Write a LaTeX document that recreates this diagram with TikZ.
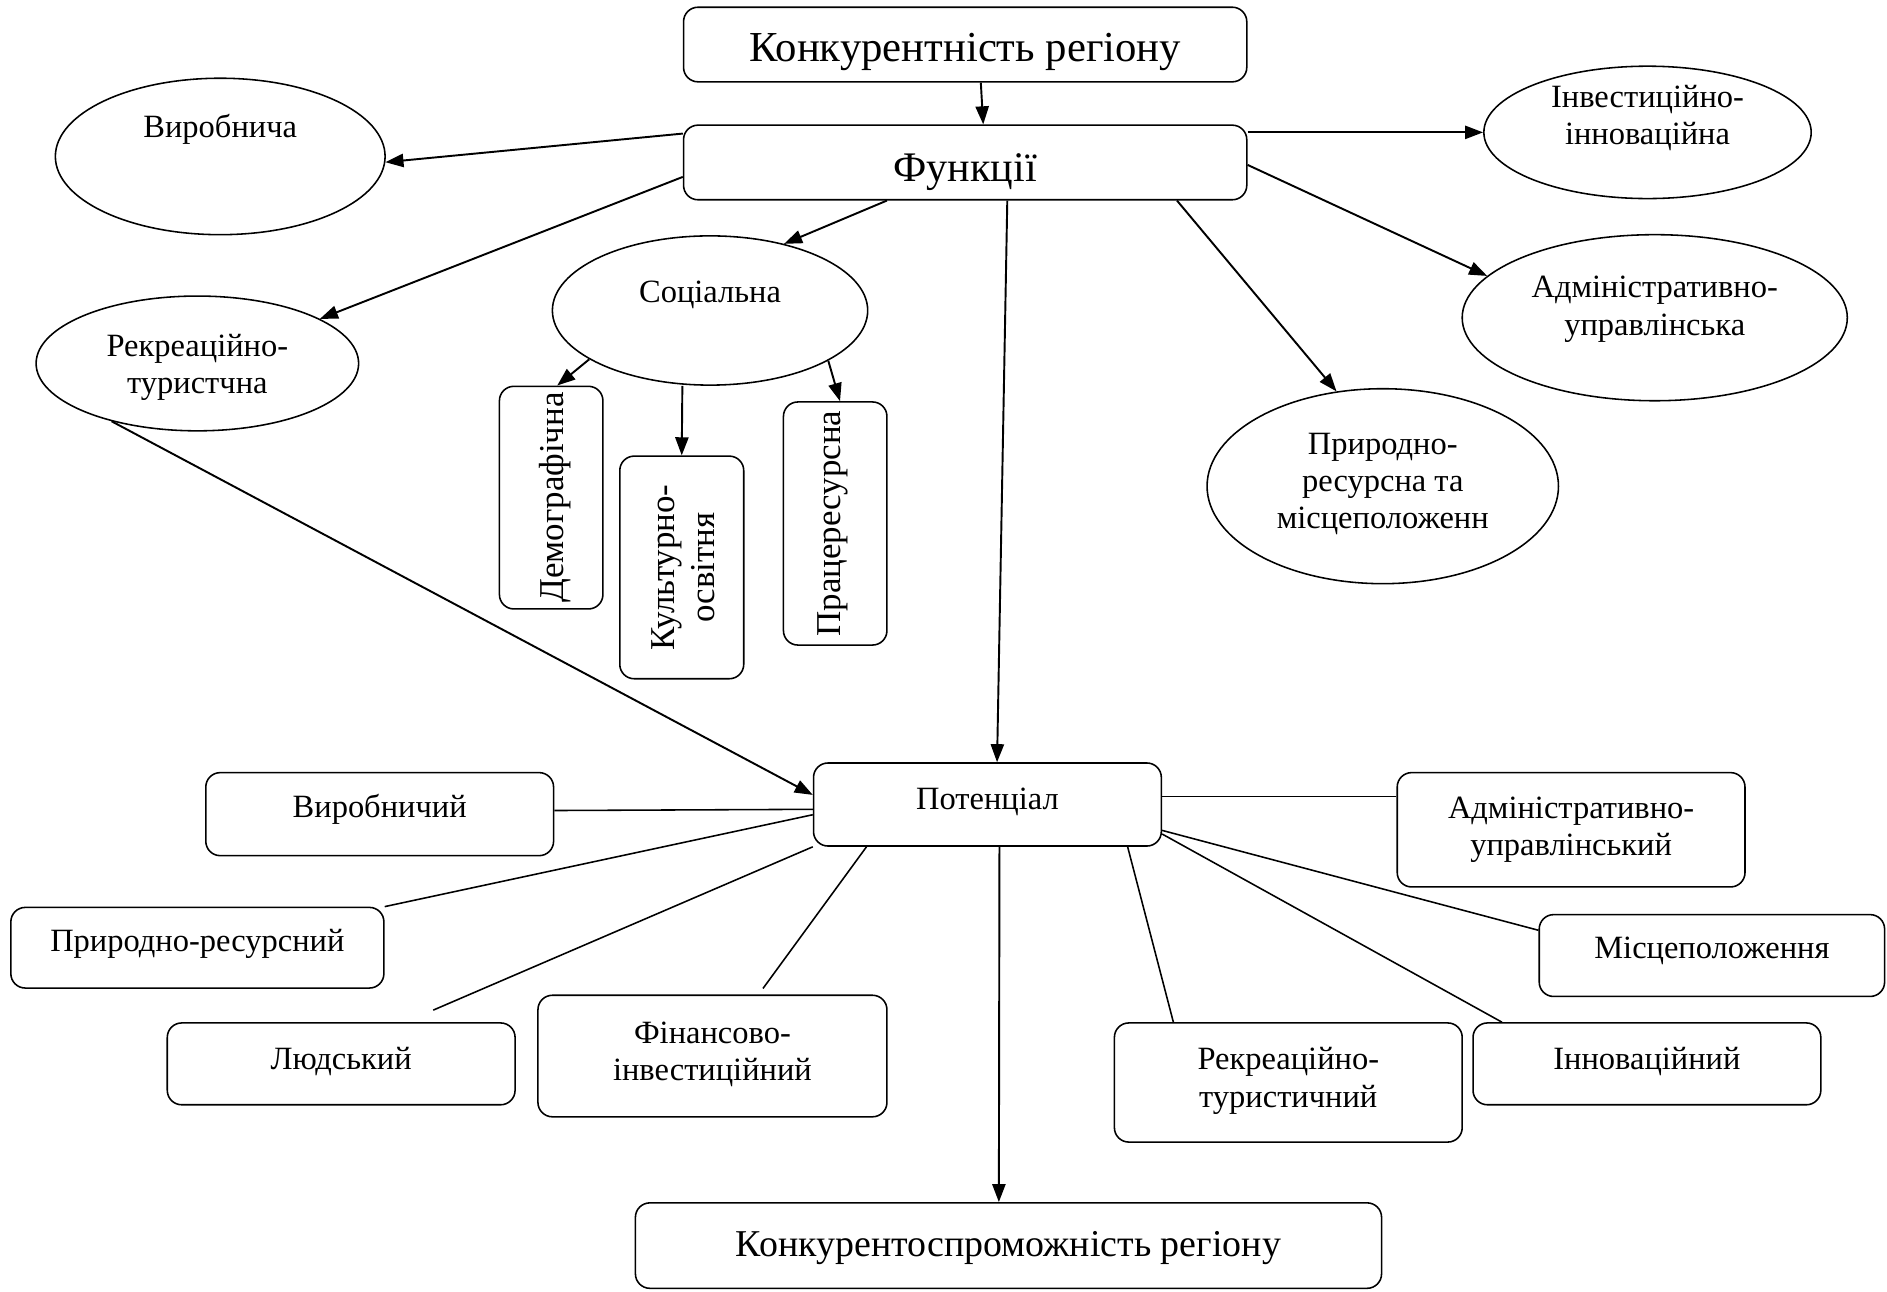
\documentclass[tikz,border=0pt]{standalone}
\usepackage{fontspec}
\setmainfont{Liberation Serif}
\usetikzlibrary{arrows.meta,shapes.geometric}
\newcommand{\txtup}[2]{\makebox[0pt]{\raisebox{\dimexpr #1pt-0.35em\relax}[0pt][0pt]{\begin{tabular}{@{}c@{}}#2\end{tabular}}}}
\begin{document}
\begin{tikzpicture}[x=1pt,y=-1pt,
  box/.style={draw, line width=1.3pt, rounded corners=12pt, inner sep=0pt, font=\fontsize{27}{31}\selectfont},
  oval/.style={draw, ellipse, line width=1.3pt, inner sep=0pt, font=\fontsize{27}{31}\selectfont},
  rbox/.style={box, rotate=90, font=\fontsize{29}{33}\selectfont},
  arr/.style={line width=1.6pt, -{Triangle[length=15pt,width=11pt]}},
  ln/.style={line width=1.3pt}]
\useasboundingbox (0,0) rectangle (1568,1073);
% top
\node[box, minimum width=468pt, minimum height=62pt, font=\fontsize{35.5}{40}\selectfont] (top) at (802,37) {\txtup{0}{Конкурентність регіону}};
\node[box, minimum width=468pt, minimum height=62pt, font=\fontsize{35}{40}\selectfont] (fun) at (802,135) {\txtup{-2}{Функції}};
% ellipses
\node[oval, minimum width=274pt, minimum height=130pt] (vyr) at (183,130) {\txtup{25}{Виробнича}};
\node[oval, minimum width=272pt, minimum height=110pt] (inv) at (1369,110) {\txtup{14.5}{Інвестиційно-\\інноваційна}};
\node[oval, minimum width=262pt, minimum height=124pt] (soc) at (590,258) {\txtup{16}{Соціальна}};
\node[oval, minimum width=268pt, minimum height=112pt] (rek) at (164,302) {\txtup{0}{Рекреаційно-\\туристчна}};
\node[oval, minimum width=320pt, minimum height=138pt] (adm) at (1375,264) {\txtup{10.5}{Адміністративно-\\управлінська}};
\node[oval, minimum width=292pt, minimum height=162pt] (prir) at (1149,404) {\txtup{5}{Природно-\\ресурсна та\\місцеположенн}};
% rotated boxes
\node[rbox, minimum width=185pt, minimum height=86pt] (demo) at (458,413.5) {\txtup{0}{Демографічна}};
\node[rbox, minimum width=185pt, minimum height=103pt] (kult) at (566.5,471.5) {\txtup{0}{Культурно-\\освітня}};
\node[rbox, minimum width=202pt, minimum height=86pt] (prac) at (694,435) {\txtup{6}{Працересурсна}};
% potential
\node[box, minimum width=289pt, minimum height=69pt] (pot) at (820.5,668.5) {\txtup{5.5}{Потенціал}};
\node[box, minimum width=289pt, minimum height=69pt] (vyrp) at (315.5,676.5) {\txtup{6.5}{Виробничий}};
\node[box, minimum width=310pt, minimum height=67pt] (prp) at (164,787.5) {\txtup{6.5}{Природно-ресурсний}};
\node[box, minimum width=289pt, minimum height=68pt] (lyud) at (283.5,884) {\txtup{5}{Людський}};
\node[box, minimum width=290pt, minimum height=101pt] (fin) at (592,877.5) {\txtup{4.5}{Фінансово-\\інвестиційний}};
\node[box, minimum width=289pt, minimum height=95pt] (admp) at (1305.5,689.5) {\txtup{3.5}{Адміністративно-\\управлінський}};
\node[box, minimum width=287pt, minimum height=68pt] (misc) at (1422.5,794) {\txtup{7}{Місцеположення}};
\node[box, minimum width=289pt, minimum height=99pt] (rekp) at (1070.5,899.5) {\txtup{4.5}{Рекреаційно-\\туристичний}};
\node[box, minimum width=289pt, minimum height=68pt] (inn) at (1368.5,884) {\txtup{5}{Інноваційний}};
\node[box, minimum width=620pt, minimum height=71pt, font=\fontsize{31.5}{36}\selectfont] (konk) at (838,1035) {\txtup{3}{Конкурентоспроможність регіону}};
% arrows
\draw[arr] ([xshift=13pt]top.south) -- ([xshift=15pt]fun.north);
\draw[arr] ([yshift=24pt]fun.west) -- (vyr.-2);
\draw[arr] ([yshift=-12pt]fun.west) -- (rek.20);
\draw[arr] ([xshift=-65pt]fun.south) -- (soc.42);
\draw[arr] ([xshift=35pt]fun.south) -- ([xshift=8pt]pot.north);
\draw[arr] ([yshift=25pt]fun.east) -- (inv.west);
\draw[arr] ([yshift=-2pt]fun.east) -- (adm.166);
\draw[arr] ([xshift=176pt]fun.south) -- (prir.116);
\draw[arr] (soc.202) -- ([xshift=5pt]demo.east);
\draw[arr] ([xshift=-23pt]soc.south) -- (kult.east);
\draw[arr] (soc.-23) -- ([xshift=4pt]prac.east);
\draw[arr] (rek.214) -- ([yshift=8pt]pot.west);
\draw[arr] ([xshift=10pt]pot.south) -- ([xshift=-8pt]konk.north);
% lines
\draw[ln] ([yshift=3pt]vyrp.east) -- ([yshift=-4pt]pot.west);
\draw[ln] (prp.north east) -- ([yshift=-8.5pt]pot.west);
\draw[ln] ([xshift=76.5pt,yshift=10pt]lyud.north) -- (pot.south west);
\draw[ln] ([xshift=42pt,yshift=5pt]fin.north) -- ([xshift=-100.5pt]pot.south);
\draw[ln] ([yshift=27.5pt]admp.west) -- ([yshift=6.5pt]pot.east);
\draw[ln] ([yshift=21pt]misc.west) -- ([yshift=-21.5pt]pot.east);
\draw[ln] ([xshift=-120.5pt]inn.north) -- ([yshift=-24.5pt]pot.east);
\draw[ln] ([xshift=-95.5pt]rekp.north) -- ([xshift=116.5pt]pot.south);
\end{tikzpicture}
\end{document}
